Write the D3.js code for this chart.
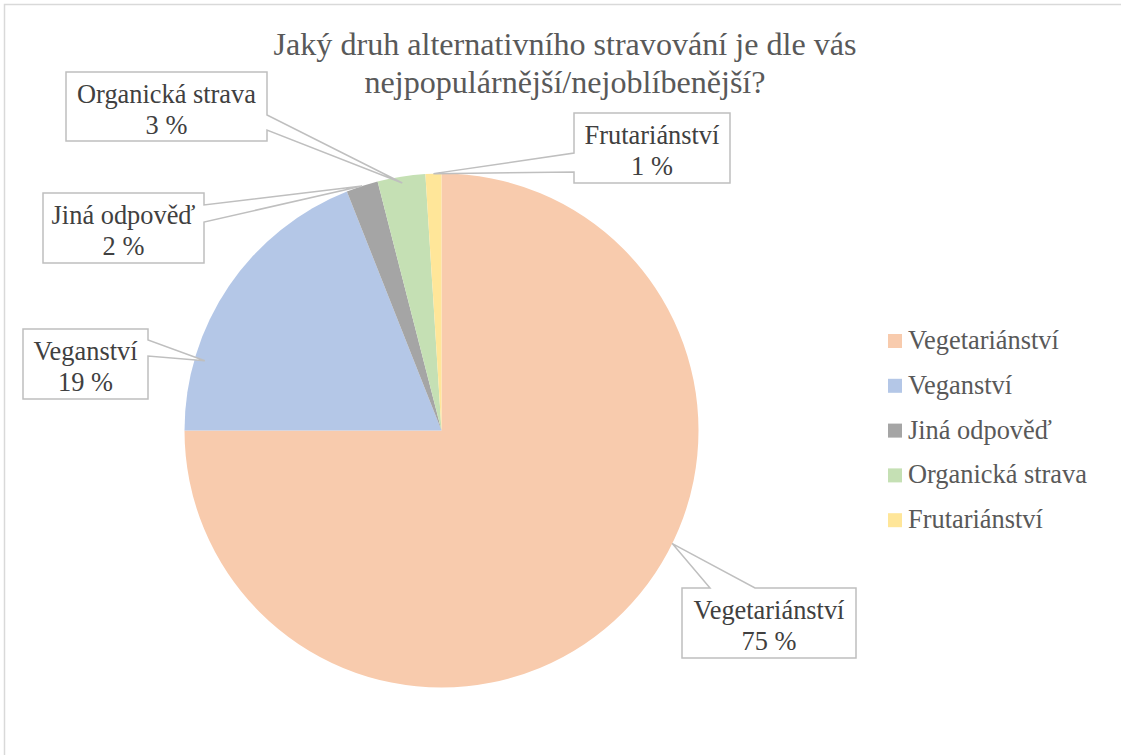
<!DOCTYPE html>
<html>
<head>
<meta charset="utf-8">
<script src="https://cdn.jsdelivr.net/npm/d3@7"></script>
<style>
  body { margin: 0; background: #fff; }
</style>
</head>
<body>
<div id="chart"></div>
<script>
/************************
 *  Data
 ************************/
const categories = ["Vegetariánství", "Veganství", "Jiná odpověď", "Organická strava", "Frutariánství"];
const shares = [75, 19, 2, 3, 1];
const sliceColors = ["#f8cbad", "#b4c7e7", "#a5a5a5", "#c5e0b4", "#ffe699"];
const titleLines = ["Jaký druh alternativního stravování je dle vás", "nejpopulárnější/nejoblíbenější?"];

/************************
 *  Layout
 ************************/
const width = 1121;
const height = 755;
const cx = 441.5, cy = 430.5, radius = 257;

// pick the first serif face that is really installed
function pickFont(list) {
  const ctx = document.createElement("canvas").getContext("2d");
  const probe = "Jaký druh alternativního WMmwil 0123";
  for (const base of ["monospace", "sans-serif"]) {
    ctx.font = `40px ${base}`;
    var w0 = ctx.measureText(probe).width;
    for (const f of list) {
      ctx.font = `40px '${f}', ${base}`;
      if (Math.abs(ctx.measureText(probe).width - w0) > 0.5) return `'${f}', serif`;
    }
  }
  return "serif";
}
const serif = pickFont(["Liberation Serif", "Times New Roman", "Tinos", "Nimbus Roman", "Nimbus Roman No9 L",
  "DejaVu Serif", "FreeSerif", "Noto Serif", "Times", "Georgia"]);

// callout boxes: box rect, which edge the wedge leaves from, the two wedge base offsets,
// where along the slice (0..1) and at what radius fraction the wedge points
const callouts = [
  { x: 682, y: 588, w: 174, h: 70, side: "top", a: 710, b: 755, t: 0.43, rf: 1.0 },
  { x: 23, y: 329, w: 125, h: 70, side: "right", a: 340, b: 356, t: 0.24, rf: 0.96 },
  { x: 43, y: 193, w: 161, h: 70, side: "right", a: 205, b: 222, t: 0.5, rf: 1.0 },
  { x: 66, y: 72, w: 201, h: 69, side: "right", a: 115, b: 130, t: 0.5, rf: 0.975 },
  { x: 574, y: 113, w: 156, h: 70, side: "left", a: 153, b: 172, t: 0.5, rf: 1.0 }
];

const svg = d3.select("#chart").append("svg")
  .attr("width", width)
  .attr("height", height)
  .attr("font-family", serif);

// size a font so that a sample string has the wanted width
function fitSize(sample, target) {
  const t = svg.append("text").attr("font-family", serif).style("font-size", "100px").text(sample);
  const w = t.node().getComputedTextLength();
  t.remove();
  return 100 * target / w;
}
const titleSize = fitSize(titleLines[0], 583);
const labelSize = fitSize("Organická strava", 179);

// chart area border
svg.append("rect")
  .attr("x", 4.5).attr("y", 4.5)
  .attr("width", width + 10).attr("height", height + 10)
  .style("fill", "#fff")
  .style("stroke", "#d9d9d9")
  .style("stroke-width", 1.5);

/************************
 *  Title
 ************************/
svg.append("g").selectAll("text")
  .data(titleLines)
  .enter()
  .append("text")
  .attr("x", 565)
  .attr("y", (_, i) => 55 + i * 38)
  .style("text-anchor", "middle")
  .style("font-size", titleSize + "px")
  .style("fill", "#595959")
  .text(d => d);

/************************
 *  Pie
 ************************/
const pie = d3.pie().sort(null).value(d => d)(shares);
const arc = d3.arc().innerRadius(0).outerRadius(radius);

const pieG = svg.append("g").attr("transform", `translate(${cx},${cy})`);
pieG.selectAll("path")
  .data(pie)
  .enter()
  .append("path")
  .attr("d", arc)
  .style("fill", (_, i) => sliceColors[i])
  .style("stroke", "none");

/************************
 *  Callouts
 ************************/
function calloutPath(c, px, py) {
  const x0 = c.x, y0 = c.y, x1 = c.x + c.w, y1 = c.y + c.h;
  let pts;
  if (c.side === "top") {
    pts = [[x0, y0], [c.a, y0], [px, py], [c.b, y0], [x1, y0], [x1, y1], [x0, y1]];
  } else if (c.side === "right") {
    pts = [[x0, y0], [x1, y0], [x1, c.a], [px, py], [x1, c.b], [x1, y1], [x0, y1]];
  } else {
    pts = [[x0, y0], [x1, y0], [x1, y1], [x0, y1], [x0, c.b], [px, py], [x0, c.a]];
  }
  return d3.line()(pts) + "Z";
}

const labelG = svg.append("g");
pie.forEach((p, i) => {
  const c = callouts[i];
  const ang = p.startAngle + (p.endAngle - p.startAngle) * c.t;
  const px = cx + Math.sin(ang) * radius * c.rf;
  const py = cy - Math.cos(ang) * radius * c.rf;

  labelG.append("path")
    .attr("d", calloutPath(c, px, py))
    .style("fill", "#fff")
    .style("stroke", "#bfbfbf")
    .style("stroke-width", 1.5);

  const tx = c.x + c.w / 2;
  labelG.append("text")
    .attr("x", tx).attr("y", c.y + 31)
    .style("text-anchor", "middle")
    .style("font-size", labelSize + "px")
    .style("fill", "#404040")
    .text(categories[i]);
  labelG.append("text")
    .attr("x", tx).attr("y", c.y + 62)
    .style("text-anchor", "middle")
    .style("font-size", labelSize + "px")
    .style("fill", "#404040")
    .text(`${shares[i]} %`);
});

/************************
 *  Legend
 ************************/
const legend = svg.append("g").selectAll("g")
  .data(categories)
  .enter()
  .append("g")
  .attr("transform", (_, i) => `translate(888, ${341 + i * 44.8})`);

legend.append("rect")
  .attr("x", 0).attr("y", -7)
  .attr("width", 14).attr("height", 14)
  .style("fill", (_, i) => sliceColors[i]);

legend.append("text")
  .attr("x", 20).attr("y", 8)
  .style("font-size", labelSize + "px")
  .style("fill", "#595959")
  .text(d => d);
</script>
</body>
</html>
